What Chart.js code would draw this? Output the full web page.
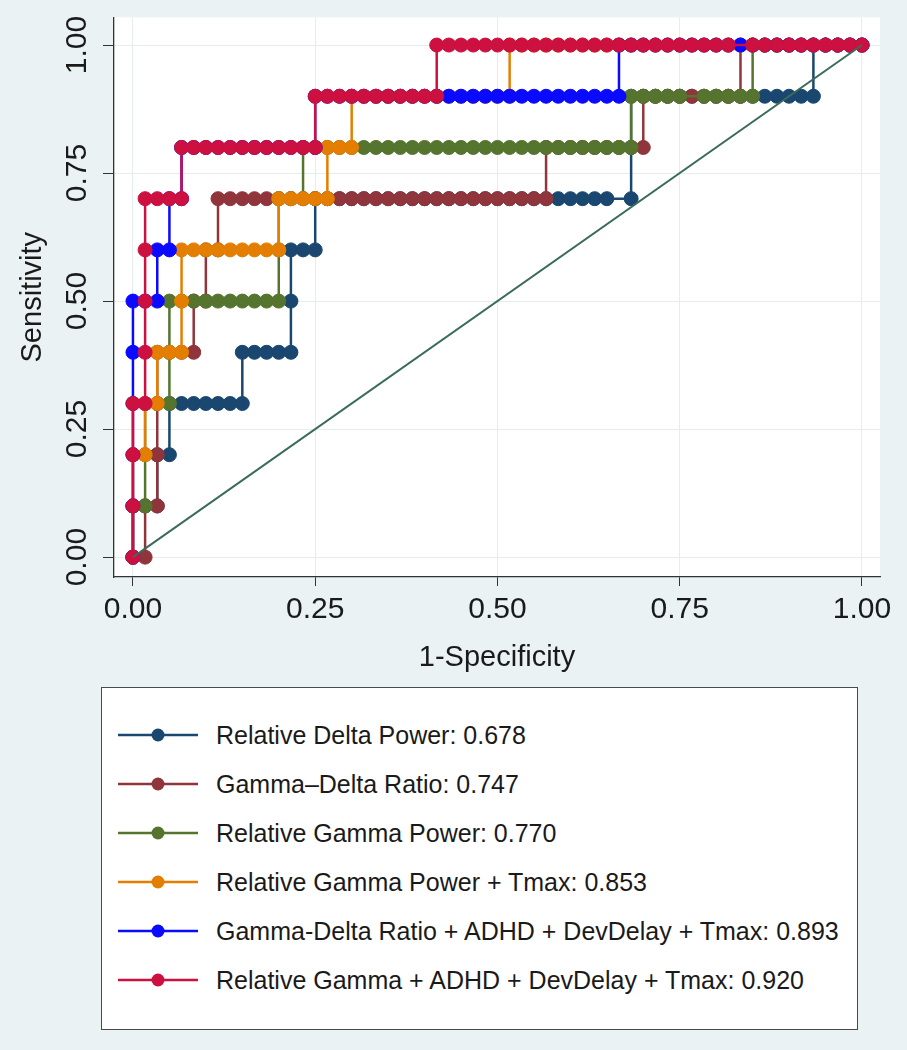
<!DOCTYPE html>
<html>
<head>
<meta charset="utf-8">
<script src="https://cdn.jsdelivr.net/npm/chart.js@4.4.0/dist/chart.umd.min.js"></script>
<style>
body { margin: 0; background: #eaf2f3; font-family: "Liberation Sans", Arial, sans-serif; }
#wrap { position: relative; width: 907px; height: 1050px; }
#roc { position: absolute; left: 0; top: 0; }
#legend { position: absolute; left: 101px; top: 687px; width: 757px; height: 343px; background: #fff; border: 1.5px solid #4a4a4a; box-sizing: border-box; }
.item { position: absolute; left: 16px; height: 30px; display: flex; align-items: center; font-size: 25px; color: #1a1a1a; white-space: nowrap; }
.item svg { margin-right: 18px; }
</style>
</head>
<body>
<div id="wrap">
  <canvas id="roc" width="907" height="680"></canvas>
  <div id="legend"></div>
</div>
<script>
// 60 controls (1-specificity steps), 10 cases (sensitivity steps)
const nNeg = 60;
const nPos = 10;

const xTicks = [0, 0.25, 0.5, 0.75, 1];
const yTicks = [0, 0.25, 0.5, 0.75, 1];

const seriesNames = [
	"Relative Delta Power: 0.678",
	"Gamma\u2013Delta Ratio: 0.747",
	"Relative Gamma Power: 0.770",
	"Relative Gamma Power + Tmax: 0.853",
	"Gamma-Delta Ratio + ADHD + DevDelay + Tmax: 0.893",
	"Relative Gamma + ADHD + DevDelay + Tmax: 0.920",
];
const seriesColors = ["#1a476f", "#90353b", "#55752f", "#e37e00", "#0a0aff", "#cc1040"];

// for each sensitivity level 0..10: first and last false-positive count on that level
const deltaFrom = [0, 0, 2, 3, 9, 13, 13, 15, 41, 41, 56];
const deltaTo = [0, 2, 3, 9, 13, 13, 15, 41, 41, 56, 60];
const deltaSkip = [[7, 40]];

const ratioFrom = [0, 1, 2, 2, 2, 5, 6, 7, 34, 42, 50];
const ratioTo = [1, 2, 2, 2, 5, 6, 7, 34, 42, 50, 60];
const ratioSkip = [];

const gammaFrom = [0, 0, 1, 1, 3, 3, 12, 12, 14, 41, 51];
const gammaTo = [0, 1, 1, 3, 3, 12, 12, 14, 41, 51, 60];
const gammaSkip = [[9, 46]];

const gammaTmaxFrom = [0, 0, 0, 1, 2, 4, 4, 12, 16, 18, 31];
const gammaTmaxTo = [0, 0, 1, 2, 4, 4, 12, 16, 18, 31, 60];
const gammaTmaxSkip = [];

const ratioFullFrom = [0, 0, 0, 0, 0, 0, 2, 3, 4, 15, 40];
const ratioFullTo = [0, 0, 0, 0, 0, 2, 3, 4, 15, 40, 60];
const ratioFullSkip = [];

const gammaFullFrom = [0, 0, 0, 0, 1, 1, 1, 1, 4, 15, 25];
const gammaFullTo = [0, 0, 0, 1, 1, 1, 1, 4, 15, 25, 60];
const gammaFullSkip = [[10, 50]];

function rocPoints(from, to, skip) {
	const pts = [];
	for (let k = 0; k <= nPos; k++) {
		for (let f = from[k]; f <= to[k]; f++) {
			if (skip.some((s) => s[0] === k && s[1] === f)) continue;
			pts.push({ x: f / nNeg, y: k / nPos });
		}
	}
	return pts;
}

const curves = [
	rocPoints(deltaFrom, deltaTo, deltaSkip),
	rocPoints(ratioFrom, ratioTo, ratioSkip),
	rocPoints(gammaFrom, gammaTo, gammaSkip),
	rocPoints(gammaTmaxFrom, gammaTmaxTo, gammaTmaxSkip),
	rocPoints(ratioFullFrom, ratioFullTo, ratioFullSkip),
	rocPoints(gammaFullFrom, gammaFullTo, gammaFullSkip),
];

const datasets = curves.map((pts, i) => ({
	label: seriesNames[i],
	data: pts,
	showLine: true,
	borderColor: seriesColors[i],
	backgroundColor: seriesColors[i],
	borderWidth: 2.5,
	pointRadius: 7,
	pointBorderWidth: 1,
	pointBorderColor: seriesColors[i],
	order: 6 - i,
}));
datasets.push({
	label: "reference",
	data: [{ x: 0, y: 0 }, { x: 1, y: 1 }],
	showLine: true,
	borderColor: "#3b6b5b",
	borderWidth: 2,
	pointRadius: 0,
	order: 0,
});

const fontFam = '"Liberation Sans", Arial, sans-serif';

const plotBg = {
	id: "plotBg",
	beforeDraw(chart) {
		const { ctx, chartArea: a } = chart;
		ctx.save();
		ctx.fillStyle = "#ffffff";
		ctx.fillRect(a.left, a.top, a.right - a.left, a.bottom - a.top);
		ctx.restore();
	},
};

// Stata draws y labels turned 90 degrees
const yLabels = {
	id: "yLabels",
	afterDraw(chart) {
		const ctx = chart.ctx;
		const ys = chart.scales.y;
		ctx.save();
		ctx.fillStyle = "#1a1a1a";
		ctx.font = "30px " + fontFam;
		ctx.textAlign = "center";
		ctx.textBaseline = "middle";
		yTicks.forEach((v) => {
			ctx.save();
			ctx.translate(78, ys.getPixelForValue(v));
			ctx.rotate(-Math.PI / 2);
			ctx.fillText(v.toFixed(2), 0, 0);
			ctx.restore();
		});
		ctx.restore();
	},
};

const ctx = document.getElementById("roc").getContext("2d");
const rocChart = new Chart(ctx, {
	type: "scatter",
	data: { datasets: datasets },
	options: {
		responsive: false,
		animation: false,
		devicePixelRatio: 1,
		layout: { padding: { top: 14, right: 27, left: 0, bottom: 0 } },
		plugins: { legend: { display: false }, tooltip: { enabled: false } },
		scales: {
			x: {
				type: "linear",
				min: -0.026,
				max: 1.0247,
				afterBuildTicks: (s) => { s.ticks = xTicks.map((v) => ({ value: v })); },
				afterFit: (s) => { s.height = 103; },
				ticks: {
					callback: (v) => Number(v).toFixed(2),
					color: "#1a1a1a",
					font: { size: 30, family: fontFam },
					padding: 6,
					maxRotation: 0,
				},
				grid: { color: "#e4edef", lineWidth: 1, tickColor: "#333", tickLength: 9 },
				border: { color: "#333", width: 1.3 },
				title: {
					display: true,
					text: "1-Specificity",
					color: "#1a1a1a",
					font: { size: 29, family: fontFam },
					padding: { top: 0, bottom: 5 },
				},
			},
			y: {
				type: "linear",
				min: -0.0388,
				max: 1.054,
				afterBuildTicks: (s) => { s.ticks = yTicks.map((v) => ({ value: v })); },
				afterFit: (s) => { s.width = 114; },
				ticks: { color: "rgba(0,0,0,0)", font: { size: 24, family: fontFam } },
				grid: { color: "#e4edef", lineWidth: 1, tickColor: "#333", tickLength: 11 },
				border: { color: "#333", width: 1.3 },
				title: {
					display: true,
					text: "Sensitivity",
					color: "#1a1a1a",
					font: { size: 29, family: fontFam },
					padding: { top: 16, bottom: 0 },
				},
			},
		},
	},
	plugins: [plotBg, yLabels],
});

// legend box
const legendBox = document.getElementById("legend");
seriesNames.forEach((name, i) => {
	const row = document.createElement("div");
	row.className = "item";
	row.style.top = 32 + i * 49 + "px";
	const c = seriesColors[i];
	row.innerHTML =
		'<svg width="80" height="16"><line x1="0" y1="8" x2="80" y2="8" stroke="' + c +
		'" stroke-width="2.5"/><circle cx="40" cy="8" r="6.5" fill="' + c + '"/></svg>';
	const span = document.createElement("span");
	span.textContent = name;
	row.appendChild(span);
	legendBox.appendChild(row);
});
</script>
</body>
</html>
